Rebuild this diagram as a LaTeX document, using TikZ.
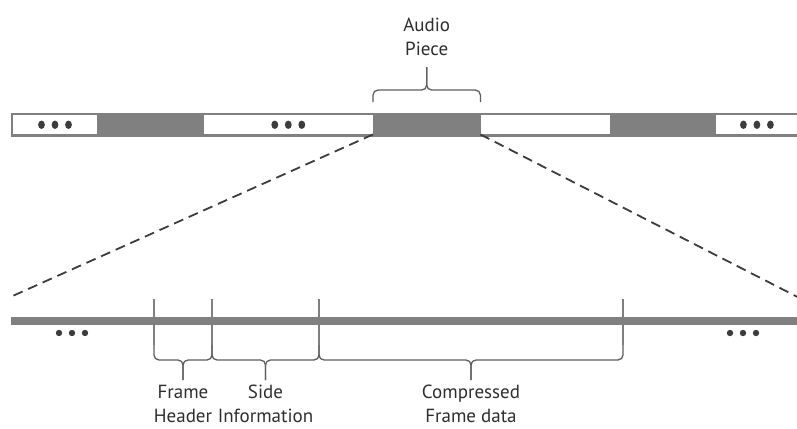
\documentclass[tikz,border=0pt]{standalone}
\usepackage{fontspec}
\setmainfont{PT Sans}
\usetikzlibrary{positioning}
\definecolor{bargray}{HTML}{808080}
\definecolor{bracegray}{HTML}{5E5E5E}
\definecolor{dashgray}{HTML}{3C3C3C}
\definecolor{textgray}{HTML}{2E2E2E}
\tikzset{
  cell/.style={inner sep=0pt, minimum height=19pt, fill=white},
  gap/.style={cell, fill=bargray},
  brace/.style={draw=bracegray, line width=1.3pt, rounded corners=5pt},
  tick/.style={draw=bargray, line width=1.3pt},
  zoomline/.style={draw=dashgray, line width=1.8pt, dash pattern=on 10pt off 6pt},
  label/.style={text=textgray, align=center, inner sep=1pt,
    font=\fontsize{19}{24}\selectfont}
}
\begin{document}
\begin{tikzpicture}[x=1pt, y=-1pt]
  \useasboundingbox (0,0) rectangle (797,428);
  \node[fill=bargray, inner sep=0pt, minimum width=786pt, minimum height=23.5pt] (strip) at (404,124.75) {};
  \node[cell, minimum width=84pt] (b1) at (55,124.75) {};
  \node[gap, minimum width=106pt, right=0pt of b1] (g1) {};
  \node[cell, minimum width=169pt, right=0pt of g1] (b2) {};
  \node[gap, minimum width=107pt, right=0pt of b2] (piece) {};
  \node[cell, minimum width=129pt, right=0pt of piece] (b3) {};
  \node[gap, minimum width=106pt, right=0pt of b3] (g3) {};
  \node[cell, minimum width=81pt, right=0pt of g3] (b4) {};
  \foreach \b in {b1,b2,b4}
    \foreach \i in {-1,0,1}
      \fill[dashgray] (\b.center) ++(\i*13.5,0) ellipse (3.4 and 4.2);
  \coordinate (pl) at ([yshift=13pt]piece.north west);
  \coordinate (pr) at ([yshift=13pt]piece.north east);
  \coordinate (ptip) at ([yshift=48pt]piece.north);
  \draw[brace] (pl) |- ([yshift=-23pt]ptip) -- (ptip);
  \draw[brace] (pr) |- ([yshift=-23pt]ptip) -- (ptip);
  \node[label, anchor=south, yshift=10pt] (audio) at (ptip) {Audio\\Piece};

  \node[fill=bargray, inner sep=0pt, minimum width=786pt, minimum height=8pt] (frame) at (404,321) {};
  \coordinate (fl) at ([yshift=20pt]frame.north west);
  \coordinate (fr) at ([yshift=20pt]frame.north east);
  \draw[zoomline] (piece.south west) -- (fl);
  \draw[zoomline] (piece.south east) -- (fr);
  \foreach \x in {-13,0,13}
    \fill[dashgray] (72+\x,333) circle (3.2);
  \foreach \x in {-13,0,13}
    \fill[dashgray] (743+\x,333) circle (3.2);

  \foreach \x/\n in {154/t1,212/t2,319/t3,623/t4} {
    \coordinate (\n) at (\x,345);
    \draw[tick] (\x,299) -- (\n);
  }
  \coordinate (c1) at (183,380);
  \coordinate (c2) at (265.5,380);
  \coordinate (c3) at (471,380);
  \draw[brace] (t1) |- ([yshift=20pt]c1) -- (c1);
  \draw[brace] (t2) |- ([yshift=20pt]c1) -- (c1);
  \draw[brace] (t2) |- ([yshift=20pt]c2) -- (c2);
  \draw[brace] (t3) |- ([yshift=20pt]c2) -- (c2);
  \draw[brace] (t3) |- ([yshift=20pt]c3) -- (c3);
  \draw[brace] (t4) |- ([yshift=20pt]c3) -- (c3);
  \node[label, anchor=north, yshift=-4pt] (header) at (c1) {Frame\\Header};
  \node[label, anchor=north, yshift=-4pt] (side) at (c2) {Side\\Information};
  \node[label, anchor=north, yshift=-4pt] (data) at (c3) {Compressed\\Frame data};
\end{tikzpicture}
\end{document}
